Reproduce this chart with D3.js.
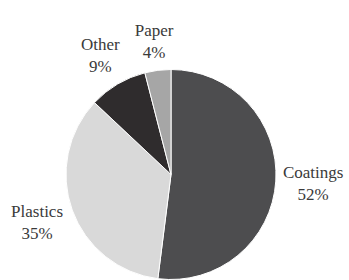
<!DOCTYPE html>
<html>
<head>
<meta charset="utf-8">
<script src="https://cdn.jsdelivr.net/npm/d3@7"></script>
<style>
  html, body { margin: 0; padding: 0; background: #fff; }
  svg { display: block; }
</style>
</head>
<body>
<svg id="chart" width="349" height="280"></svg>
<script>
const categories = ["Coatings", "Plastics", "Other", "Paper"];
const values = [52, 35, 9, 4];
const colors = ["#4d4d4f", "#d9d9d9", "#2f2c2d", "#a6a6a6"];

const W = 349, H = 280;
const cx = 171, cy = 174.5, R = 105;
const gap = 6, lineH = 22;

const svg = d3.select("#chart");
const g = svg.append("g").attr("transform", `translate(${cx},${cy})`);

const data = categories.map((c, i) => ({ name: c, value: values[i], color: colors[i] }));
const pie = d3.pie().value(d => d.value).sort(null);
const arcs = pie(data);
const arc = d3.arc().innerRadius(0).outerRadius(R);

g.selectAll("path").data(arcs).enter().append("path")
  .attr("d", arc)
  .attr("fill", d => d.data.color)
  .attr("stroke", "#ffffff")
  .attr("stroke-width", 1);

const total = d3.sum(values);
const labels = g.selectAll("g.lbl").data(arcs).enter().append("g").attr("class", "lbl");
labels.each(function(d) {
  const sel = d3.select(this);
  const t = sel.append("text")
    .attr("text-anchor", "middle")
    .attr("font-family", "'Liberation Serif', 'Times New Roman', serif")
    .attr("font-size", 17)
    .attr("fill", "#3a3a3a");
  t.append("tspan").attr("x", 0).attr("y", 0).text(d.data.name);
  t.append("tspan").attr("x", 0).attr("y", lineH).text(Math.round(d.data.value / total * 100) + "%");
  const bb = t.node().getBBox();
  const mid = (d.startAngle + d.endAngle) / 2;
  const ux = Math.sin(mid), uy = -Math.cos(mid);
  const dist = R + gap + Math.abs(ux) * bb.width / 2 + Math.abs(uy) * bb.height / 2;
  const bx = ux * dist, by = uy * dist;
  const ox = bx - (bb.x + bb.width / 2);
  const oy = by - (bb.y + bb.height / 2);
  sel.attr("transform", `translate(${ox},${oy})`);
});
</script>
</body>
</html>
